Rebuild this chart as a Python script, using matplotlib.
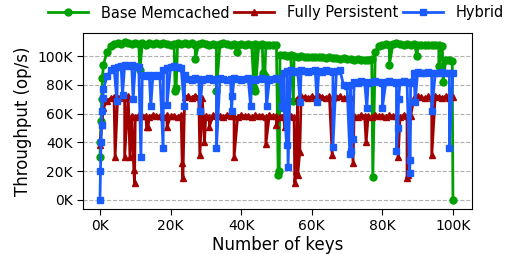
import numpy as np
import matplotlib
matplotlib.use("Agg")
import matplotlib.pyplot as plt
from matplotlib.ticker import FuncFormatter

# throughput in K op/s, sampled every 1K keys (index = thousands of keys)
base_memcached = [
    30, 94, 103, 107, 108.5, 109, 108.5, 109.5, 109, 108.5,
    109, 108.5, 109, 108, 109, 108.5, 109, 108.5, 109, 108.5,
    108, 108.5, 109, 108.5, 109, 108.5, 109, 108, 108.5, 109,
    108.5, 108, 108.5, 108, 108.5, 109, 108.5, 108, 108.5, 108,
    108.5, 108, 108.5, 108, 108.5, 108, 108.5, 108, 107.5, 108,
    107.5, 101, 100.5, 100, 100.5, 100, 99.5, 100, 99.5, 99.5,
    99, 99.5, 99, 99, 98.5, 99, 98.5, 98.5, 98, 98.5,
    98, 98, 97.5, 98, 97.5, 97.5, 97.5, 98, 103, 107,
    108, 108.5, 108, 108.5, 109, 108.5, 108, 108.5, 108, 108.5,
    108, 107.5, 108, 107.5, 108, 107.5, 107.5, 107, 97.5, 97,
    0,
]
fully_persistent = [
    38, 64, 69, 70.5, 71.5, 70.5, 72, 71, 72, 58.5,
    57.5, 59, 58, 58.5, 57.5, 59, 58, 58.5, 57.5, 59,
    58, 58.5, 57.5, 59, 71.5, 72, 71, 72.5, 71.5, 71,
    58.5, 57.5, 59, 58, 58.5, 57.5, 59, 58, 58.5, 57.5,
    59, 58, 58.5, 57.5, 59, 58, 58.5, 57.5, 59, 58,
    58.5, 57.5, 59, 58, 58.5, 57.5, 71, 72, 71.5, 70.5,
    72, 71, 72.5, 71.5, 71, 72, 70.5, 71.5, 72, 71,
    71.5, 71, 58.5, 57.5, 59, 58, 58.5, 57.5, 59, 58,
    58.5, 57.5, 59, 58, 58.5, 57.5, 59, 58, 58.5, 71,
    72, 71.5, 70.5, 72, 71, 72.5, 71.5, 71, 72, 70.5,
    71.5,
]
hybrid = [
    0, 77, 86, 90, 92, 92.5, 93, 93.5, 93, 93.5,
    93, 92.5, 87, 86, 86.5, 86, 86.5, 86, 90, 92,
    92.5, 93, 92.5, 92, 87, 84, 83.5, 84.5, 84, 83.5,
    84, 84.5, 83.5, 84, 84.5, 84, 83.5, 84, 84.5, 84,
    83.5, 84, 84.5, 84, 83.5, 84, 84.5, 84, 83.5, 84,
    84.5, 84, 88, 89.5, 90, 89, 89.5, 90, 89.5, 89,
    89.5, 90, 89.5, 89, 90, 89.5, 89, 89.5, 90, 80,
    79.5, 80, 82, 81.5, 82.5, 82, 81.5, 82, 82.5, 82,
    81.5, 82, 82.5, 82, 81.5, 82, 82.5, 82, 81.5, 88.5,
    89, 88, 88.5, 89, 88.5, 88, 88.5, 89, 88.5, 88,
    88.5,
]

# extra samples: ramp-up points and the short throughput drops
green_extra_keys = [0.15, 0.3, 0.5, 0.7, 11.3, 21.3, 21.6, 27.0, 33.0, 38.8,
                    43.6, 44.0, 46.2, 46.7, 50.5, 50.8, 54.8, 77.3, 82.0, 89.9,
                    96.0, 97.2, 99.8]
green_extra_vals = [40, 55, 70, 85, 90, 76, 78, 98, 76, 103,
                    78, 76, 88, 86, 17, 20, 69, 16, 94, 100,
                    93, 82, 96.5]
red_extra_keys = [0.5, 4.3, 7.0, 8.5, 9.6, 9.8, 13.2, 13.6, 19.0, 23.3,
                  23.5, 28.3, 29.6, 31.0, 38.0, 47.0, 50.0, 52.3, 55.2, 55.6,
                  56.0, 56.6, 65.8, 71.7, 75.4, 84.5, 87.0, 87.3, 94.0]
red_extra_vals = [52, 30, 30, 30, 21, 12, 51, 51, 51, 26,
                  15, 31, 40, 51, 30, 39, 52, 51, 12, 20,
                  17, 33, 31, 26, 40, 30, 15, 17, 31]
blue_extra_keys = [0.15, 0.3, 0.45, 0.6, 0.8, 4.8, 6.4, 9.4, 11.6, 14.4,
                   17.9, 19.0, 23.9, 28.3, 33.0, 37.3, 37.5, 42.7, 47.2, 51.6,
                   52.2, 52.9, 53.3, 56.7, 61.5, 66.0, 70.8, 71.1, 71.6, 75.6,
                   80.0, 84.0, 84.4, 84.6, 87.7, 87.9, 89.3, 94.0, 99.0]
blue_extra_vals = [20, 40, 52, 62, 71, 69, 73, 70, 30, 65,
                   36, 66, 65, 62, 36, 62, 72, 65, 65, 65,
                   64, 38, 23, 68, 68, 37, 32, 34, 42, 64,
                   64, 34, 50, 70, 19, 28, 68, 62, 36]

labels = ["Base Memcached", "Fully Persistent", "Hybrid"]
colors = ["#00a000", "#a00000", "#1a5cff"]
markers = ["o", "^", "s"]


def merge(base, ekeys, evals):
    k = np.concatenate([np.arange(len(base)), ekeys])
    v = np.concatenate([base, evals])
    order = np.argsort(k, kind="stable")
    return k[order] * 1000, v[order] * 1000


series = [
    merge(base_memcached, green_extra_keys, green_extra_vals),
    merge(fully_persistent, red_extra_keys, red_extra_vals),
    merge(hybrid, blue_extra_keys, blue_extra_vals),
]

fig = plt.figure(figsize=(5.07, 2.54), dpi=100)
ax = fig.add_axes([83 / 507, 1 - 209 / 254, 389 / 507, 176 / 254])

for (x, y), lab, c, m in zip(series, labels, colors, markers):
    ax.plot(x, y, color=c, marker=m, markersize=5, linewidth=2, label=lab)

ax.set_xlim(-4800, 105400)
ax.set_ylim(-6300, 116000)
ax.set_xticks(np.arange(0, 100001, 20000))
ax.set_yticks(np.arange(0, 100001, 20000))
kfmt = FuncFormatter(lambda v, p: "%dK" % round(v / 1000))
ax.xaxis.set_major_formatter(kfmt)
ax.yaxis.set_major_formatter(kfmt)
ax.tick_params(labelsize=10, length=4)
ax.yaxis.grid(True, linestyle="--", color="#b0b0b0", linewidth=0.8)
ax.set_axisbelow(True)
ax.set_xlabel("Number of keys", fontsize=12, labelpad=2)
ax.set_ylabel("Throughput (op/s)", fontsize=12)

fig.legend(loc="center", bbox_to_anchor=(276 / 507, 1 - 13 / 254), ncol=3,
           frameon=False, fontsize=10.5, handlelength=2.75, handletextpad=0.9,
           columnspacing=0.3, borderpad=0)

fig.savefig("out.png", dpi=100)
